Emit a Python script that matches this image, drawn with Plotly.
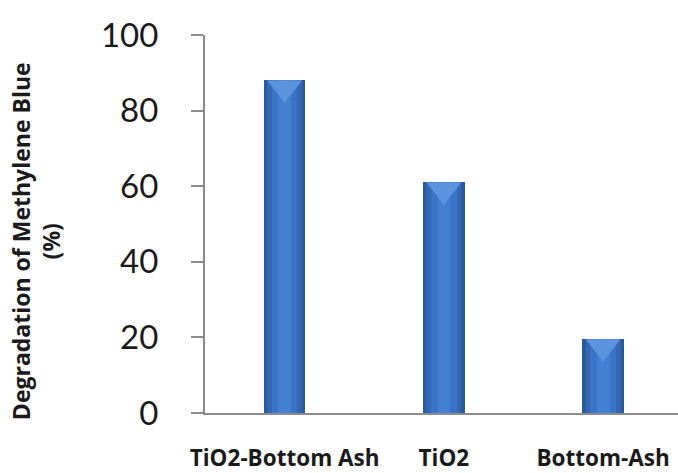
import plotly.graph_objects as go

categories = ["TiO2-Bottom Ash", "TiO2", "Bottom-Ash"]
degradation = [88, 61, 19.5]
y_ticks = [0, 20, 40, 60, 80, 100]
y_title = "Degradation of Methylene Blue<br>(%)"

fig = go.Figure()

# layered bars to imitate the gradient
layers = [(0.26, "#2B5A9C"), (0.22, "#3468B5"), (0.16, "#3C74C5"), (0.08, "#4380D2")]
for w, c in layers:
    fig.add_trace(go.Bar(x=categories, y=degradation, width=w, marker_color=c,
                         marker_line_width=0, hoverinfo="skip", showlegend=False))

# top bevel
fig.add_trace(go.Scatter(x=categories, y=[v - 2.0 for v in degradation], mode="markers",
                         marker=dict(symbol="triangle-down", size=30, color="#5B93DE",
                                     line=dict(width=0)),
                         hoverinfo="skip", showlegend=False, cliponaxis=True))

fig.update_layout(
    width=678, height=473,
    margin=dict(l=205, r=0, t=35, b=60),
    plot_bgcolor="white", paper_bgcolor="white",
    bargap=0, barmode="overlay",
    xaxis=dict(range=[-0.5, 2.47], showline=True, linecolor="#8C8C8C", linewidth=2,
               ticks="", showgrid=False, zeroline=False, automargin=False,
               tickfont=dict(family="Open Sans", size=22.5, color="#1A1A1A", weight="bold"),
               ticklabelstandoff=24),
    yaxis=dict(range=[0, 100], tickvals=y_ticks, showline=True, linecolor="#8C8C8C",
               linewidth=2, ticks="outside", ticklen=12, tickwidth=2, tickcolor="#8C8C8C",
               showgrid=False, zeroline=False, automargin=False,
               tickfont=dict(family="Lato", size=33, color="#1A1A1A"),
               ticklabelstandoff=26),
    annotations=[dict(text=y_title, xref="paper", yref="paper", x=-0.357, y=0.455,
                      xanchor="center", yanchor="middle", textangle=-90, showarrow=False,
                      font=dict(family="Open Sans", size=23, color="#1A1A1A", weight="bold"))],
)

fig.write_html("out.html", config={"displayModeBar": False},
               post_script="document.body.style.margin='0';")
